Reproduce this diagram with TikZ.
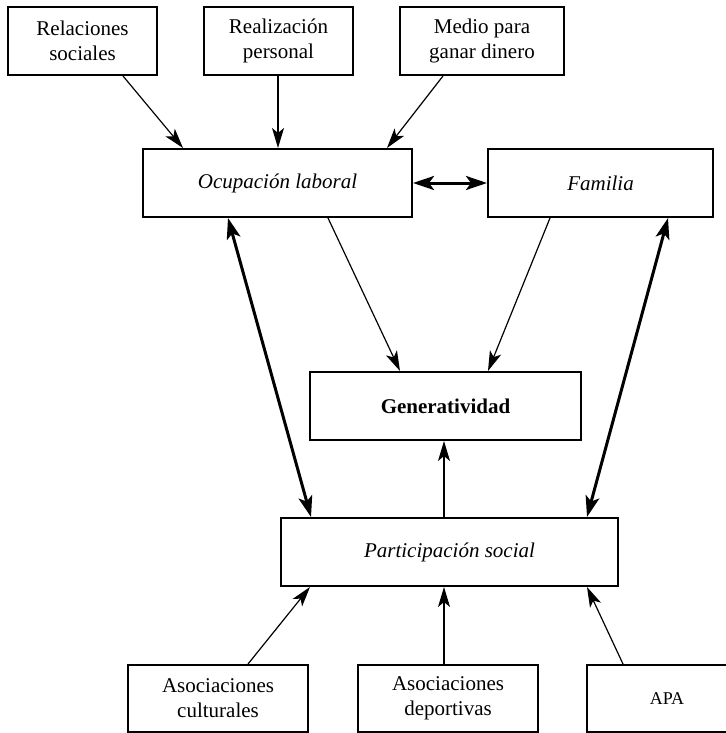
\documentclass[tikz,border=0pt]{standalone}
\usepackage{fontspec}
\setmainfont{Liberation Serif}
\usepackage{tikz}
\usetikzlibrary{arrows.meta}

\begin{document}
\begin{tikzpicture}[x=0.5pt,y=-0.5pt,
  box/.style={draw, line width=1pt, inner sep=0pt, minimum height=34pt, align=center, font=\fontsize{10.5}{12.5}\selectfont},
  thinarrow/.style={-{Stealth[length=10pt,width=6pt,inset=2.5pt]}, line width=0.6pt},
  thickarrow/.style={{Stealth[length=10.5pt,width=7pt,inset=2.5pt]}-{Stealth[length=10.5pt,width=7pt,inset=2.5pt]}, line width=1.5pt}]
\useasboundingbox (0,0) rectangle (726,733);
% top row
\node[box, minimum width=74.5pt] (Relaciones) at (82.5,41) {Relaciones\\sociales};
\node[box, minimum width=74.5pt] (Realizacion) at (278.5,41) {Realización\\personal};
\node[box, minimum width=82pt] (Medio) at (482,41) {Medio para\\ganar dinero};
% middle
\node[box, minimum width=134.5pt] (Ocupacion) at (277.5,183) {\itshape Ocupación laboral};
\node[box, minimum width=112.5pt] (Familia) at (600.5,183) {\itshape Familia};
\node[box, minimum width=135.5pt] (Generatividad) at (445.5,406) {\bfseries Generatividad};
\node[box, minimum width=168.5pt] (Participacion) at (449.5,552) {\itshape Participación social};
% bottom row
\node[box, minimum width=90pt, minimum height=33.5pt] (Culturales) at (218,698.5) {Asociaciones\\culturales};
\node[box, minimum width=90pt, minimum height=33.5pt] (Deportivas) at (448,698.5) {Asociaciones\\deportivas};
\node[box, minimum width=90pt, minimum height=33.5pt, font=\fontsize{9}{11}\selectfont] (APA) at (677,698.5) {APA\hspace*{10pt}};
% connectors
\draw[thinarrow] (Relaciones.south -| 123,0) -- (Ocupacion.north -| 183,0);
\draw[thinarrow] (Realizacion.south -| 278,0) -- (Ocupacion.north -| 278,0);
\draw[thinarrow] (Medio.south -| 443,0) -- (Ocupacion.north -| 387,0);
\draw[thickarrow] (Ocupacion.east) -- (Familia.west);
\draw[thinarrow] (Ocupacion.south -| 328,0) -- (Generatividad.north -| 400,0);
\draw[thinarrow] (Familia.south -| 550,0) -- (Generatividad.north -| 488,0);
\draw[thickarrow] (Ocupacion.south -| 228,0) -- (Participacion.north -| 311,0);
\draw[thickarrow] (Familia.south -| 668,0) -- (Participacion.north -| 587,0);
\draw[thinarrow] (Participacion.north -| 444,0) -- (Generatividad.south -| 444,0);
\draw[thinarrow] (Culturales.north -| 248,0) -- (Participacion.south -| 310,0);
\draw[thinarrow] (Deportivas.north -| 444,0) -- (Participacion.south -| 444,0);
\draw[thinarrow] (APA.north -| 623,0) -- (Participacion.south -| 587,0);
\end{tikzpicture}
\end{document}
